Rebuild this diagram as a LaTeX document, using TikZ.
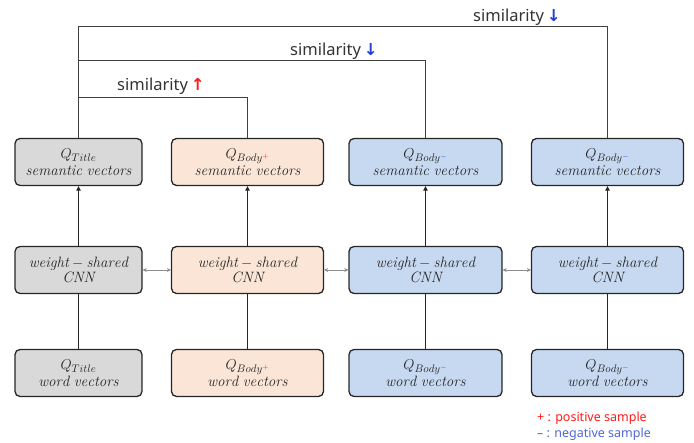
\documentclass[tikz,border=0pt]{standalone}
\usepackage{fontspec}
\setsansfont{Noto Sans}
\newfontfamily\arrowfont{DejaVu Sans}
\usetikzlibrary{arrows.meta}
\definecolor{boxgray}{HTML}{D9D9D9}
\definecolor{boxpeach}{HTML}{FBE5D6}
\definecolor{boxblue}{HTML}{C6D9F1}
\definecolor{posred}{HTML}{FF1A1A}
\definecolor{negblue}{HTML}{2440D0}
\tikzset{
  vecbox/.style={draw=black!85, line width=1.3pt, rounded corners=5pt,
    minimum height=47pt, align=center, text=black!85,
    font=\fontsize{15}{16}\selectfont},
  conn/.style={draw=black!85, line width=1.2pt},
  simline/.style={draw=black!75, line width=0.9pt},
  sharelink/.style={draw=black!45, line width=0.8pt,
    {Stealth[length=4pt,width=4pt]}-{Stealth[length=4pt,width=4pt]}},
  simlabel/.style={font=\sffamily\fontsize{16.5}{18}\selectfont, text=black!80,
    anchor=base west, inner sep=0pt},
  legend/.style={font=\sffamily\fontsize{12.5}{14}\selectfont,
    anchor=base west, inner sep=0pt},
}
\begin{document}
\begin{tikzpicture}[x=1pt, y=-1pt]
\useasboundingbox (0,0) rectangle (694,443);

% three rows of boxes, one column per question part
\foreach \i/\cx/\w/\fc/\q in {1/78.5/127/boxgray/{Q_{Title}},
    2/247.5/152/boxpeach/{Q_{Body^{\textcolor{posred}{+}}}},
    3/425.5/153/boxblue/{Q_{Body^{\textcolor{negblue}{-}}}},
    4/607.5/152/boxblue/{Q_{Body^{\textcolor{negblue}{-}}}}}{
  \node[vecbox, fill=\fc, minimum width=\w pt] (sem\i) at (\cx,162)
    {$\q$\\[0.5pt]$\mathit{semantic\ vectors}$};
  \node[vecbox, fill=\fc, minimum width=\w pt] (cnn\i) at (\cx,270)
    {$\mathit{weight}-\mathit{shared}$\\[-1pt]$\mathit{CNN}$};
  \node[vecbox, fill=\fc, minimum width=\w pt] (word\i) at (\cx,373)
    {$\q$\\[0.5pt]$\mathit{word\ vectors}$};
  \draw[conn] (word\i) -- (cnn\i);
  \draw[conn, -{Triangle[length=4.5pt,width=4.5pt]}] (cnn\i) -- (sem\i);
}

\foreach \i/\j in {1/2,2/3,3/4}
  \draw[sharelink] (cnn\i) -- (cnn\j);

% similarity brackets
\coordinate (lvtop) at (0,26);
\coordinate (lvmid) at (0,60);
\coordinate (lvlow) at (0,97);
\draw[simline] (sem1.north) -- (sem1.north |- lvtop) -| (sem4.north);
\draw[simline] (sem1.north |- lvmid) -| (sem3.north);
\draw[simline] (sem1.north |- lvlow) -| (sem2.north);

\node[simlabel] (simtop) at (473,22)
  {similarity\,\textcolor{negblue}{\arrowfont\bfseries ↓}};
\node[simlabel] (simmid) at (290,56)
  {similarity\,\textcolor{negblue}{\arrowfont\bfseries ↓}};
\node[simlabel] (simlow) at (117,91)
  {similarity\,\textcolor{posred}{\arrowfont\bfseries ↑}};

% legend
\node[legend, text=posred] (legpos) at (537,422) {+ : positive sample};
\node[legend, text=negblue!80] (legneg) at (537,438) {\textendash\ : negative sample};
\end{tikzpicture}
\end{document}
